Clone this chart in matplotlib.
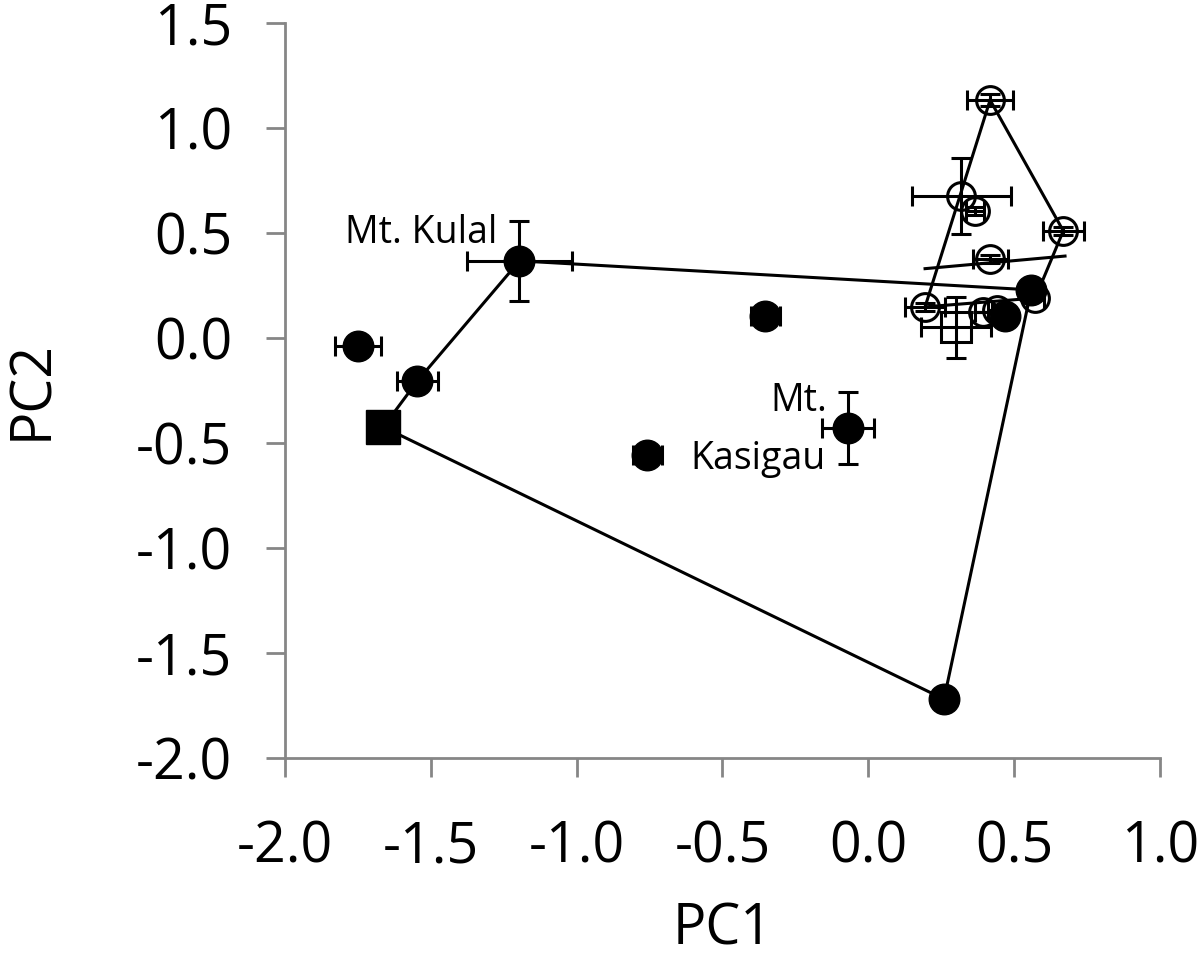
import matplotlib.pyplot as plt

plt.rcParams['font.family'] = ['Open Sans', 'DejaVu Sans']

# filled circles (PC1, PC2, error in PC1, error in PC2)
fill_x = [-1.196, -1.75, -1.546, -0.353, -0.758, -0.069, 0.26, 0.559, 0.47]
fill_y = [0.367, -0.04, -0.205, 0.105, -0.557, -0.429, -1.72, 0.229, 0.105]
fill_xerr = [0.18, 0.08, 0.07, 0.05, 0.05, 0.09, 0.03, 0.03, 0.03]
fill_yerr = [0.19, 0.0, 0.0, 0.0, 0.0, 0.17, 0.0, 0.03, 0.0]

# filled square
fsq_x = [-1.663]
fsq_y = [-0.424]

# open circles
open_x = [0.418, 0.319, 0.367, 0.669, 0.418, 0.195, 0.573, 0.395, 0.44]
open_y = [1.133, 0.676, 0.605, 0.51, 0.376, 0.148, 0.19, 0.125, 0.135]
open_xerr = [0.08, 0.17, 0.03, 0.07, 0.06, 0.07, 0.03, 0.03, 0.03]
open_yerr = [0.03, 0.18, 0.02, 0.02, 0.02, 0.02, 0.0, 0.0, 0.0]

# open square
osq_x = [0.30]
osq_y = [0.05]
osq_xerr = [0.12]
osq_yerr = [0.145]

# hull outlines
hull1_x = [-1.196, 0.559, 0.26, -1.663, -1.546, -1.196]
hull1_y = [0.367, 0.229, -1.72, -0.424, -0.205, 0.367]
hull2_x = [0.418, 0.669, 0.573, 0.195, 0.418]
hull2_y = [1.133, 0.51, 0.19, 0.148, 1.133]
seg_x = [0.195, 0.675]
seg_y = [0.33, 0.39]

fig = plt.figure(figsize=(12, 9.57), dpi=100)
ax = fig.add_axes([0.2375, 0.208, 0.729, 0.768])

ax.plot(hull1_x, hull1_y, '-', color='black', lw=2.2, zorder=1)
ax.plot(hull2_x, hull2_y, '-', color='black', lw=2.2, zorder=1)
ax.plot(seg_x, seg_y, '-', color='black', lw=2.2, zorder=1)

ax.errorbar(open_x, open_y, xerr=open_xerr, yerr=open_yerr, fmt='o', ms=20,
            mfc='none', mec='black', mew=2.2, ecolor='black', elinewidth=2.2,
            capsize=7, capthick=2.2, zorder=2)
ax.errorbar(osq_x, osq_y, xerr=osq_xerr, yerr=osq_yerr, fmt='s', ms=21,
            mfc='none', mec='black', mew=2.2, ecolor='black', elinewidth=2.2,
            capsize=7, capthick=2.2, zorder=2)
ax.errorbar(fill_x, fill_y, xerr=fill_xerr, yerr=fill_yerr, fmt='o', ms=22,
            color='black', ecolor='black', elinewidth=2.2,
            capsize=7, capthick=2.2, zorder=3)
ax.plot(fsq_x, fsq_y, 's', ms=24, color='black', zorder=3)

ax.text(-1.27, 0.5, 'Mt. Kulal', fontsize=27, ha='right', va='center')
ax.text(-0.14, -0.3, 'Mt.', fontsize=27, ha='right', va='center')
ax.text(-0.61, -0.575, 'Kasigau', fontsize=27, ha='left', va='center')

ax.set_xlim(-2.0, 1.0)
ax.set_ylim(-2.0, 1.5)
ax.set_xticks([-2.0, -1.5, -1.0, -0.5, 0.0, 0.5, 1.0])
ax.set_yticks([-2.0, -1.5, -1.0, -0.5, 0.0, 0.5, 1.0, 1.5])
ax.set_xticklabels(['%.1f' % v for v in ax.get_xticks()])
ax.set_yticklabels(['%.1f' % v for v in ax.get_yticks()])

for s in ['top', 'right']:
    ax.spines[s].set_visible(False)
for s in ['left', 'bottom']:
    ax.spines[s].set_color('#868686')
    ax.spines[s].set_linewidth(2)
ax.tick_params(direction='out', length=14, width=2, color='#868686',
               labelsize=40)
ax.tick_params(axis='x', pad=30)
ax.tick_params(axis='y', pad=24)

ax.set_xlabel('PC1', fontsize=40, labelpad=18)
ax.set_ylabel('PC2', fontsize=40, labelpad=54)

fig.savefig('out.png', dpi=100)
